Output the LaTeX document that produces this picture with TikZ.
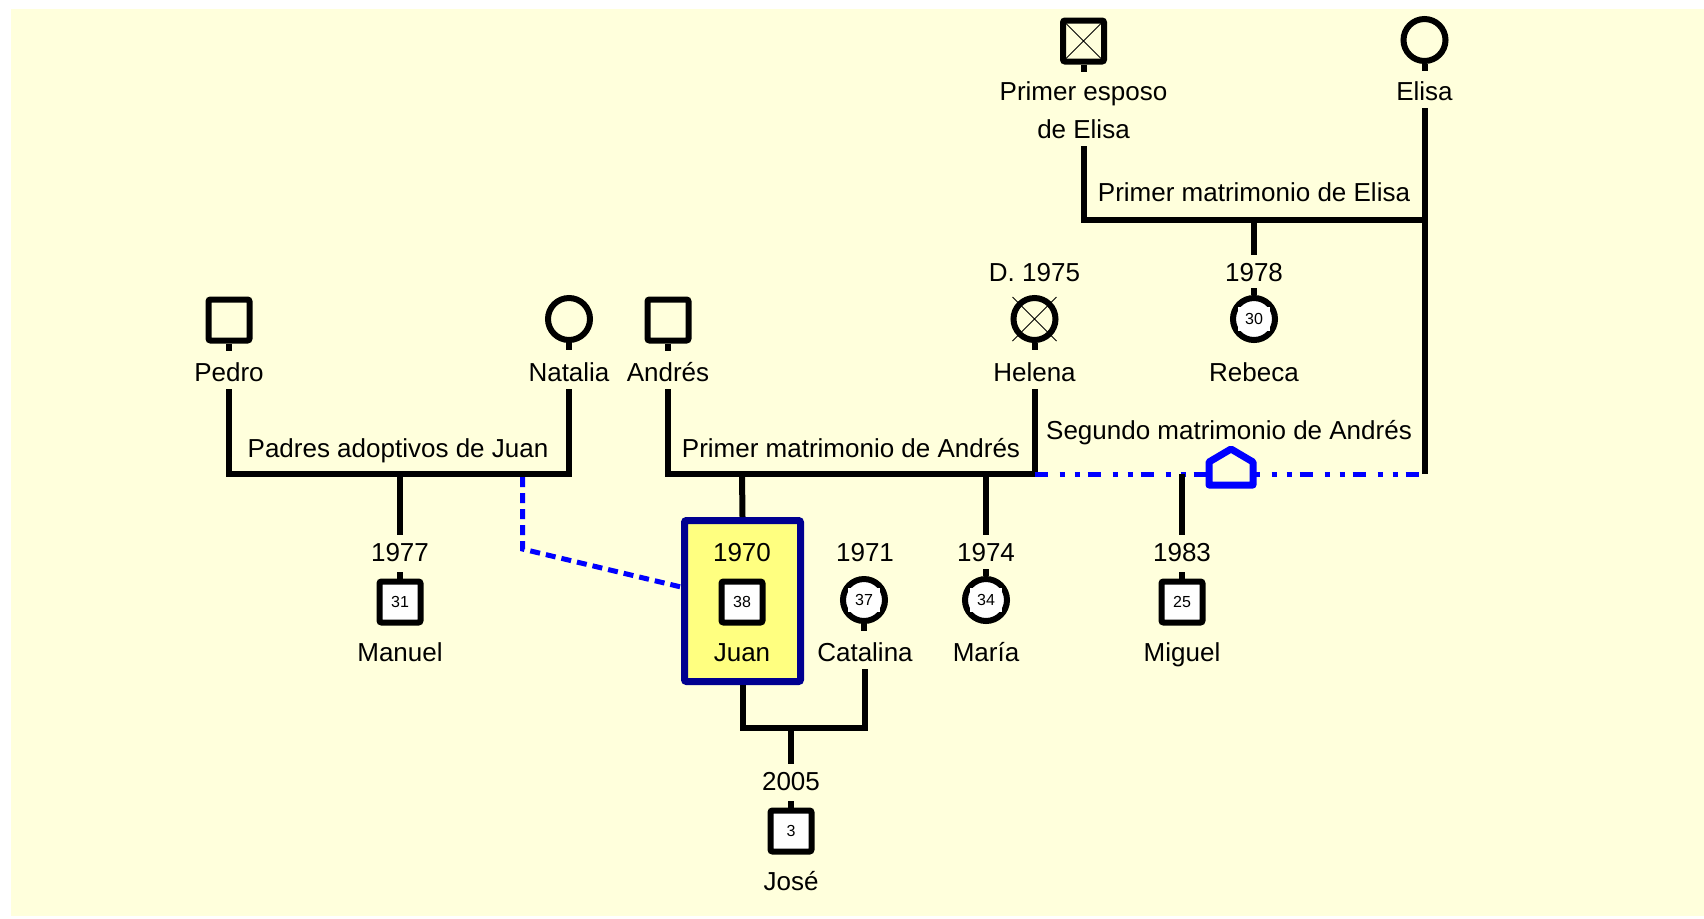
\documentclass[tikz,border=0pt]{standalone}
\usepackage{fontspec}
\setmainfont{Liberation Sans}
\definecolor{bgc}{HTML}{FFFFDC}
\definecolor{boxy}{HTML}{FFFF80}
\definecolor{navyb}{HTML}{000090}
\definecolor{blu}{HTML}{0000FF}
\begin{document}
\begin{tikzpicture}[x=0.5pt,y=-0.5pt,
  fam/.style={line width=3pt, black, line cap=butt},
  lbl/.style={font=\fontsize{13}{15}\selectfont, inner sep=0pt, outer sep=4pt, text height=9.3pt, text depth=0pt},
  male/.style={draw, line width=3pt, rectangle, minimum size=20.5pt, inner sep=0pt, rounded corners=1pt},
  female/.style={draw, line width=3pt, circle, minimum size=21pt, inner sep=0pt},
  num/.style={font=\fontsize{8}{9}\selectfont, fill=white},
  adopt/.style={draw=blu, line width=2.5pt, dash pattern=on 5pt off 3pt},
  second/.style={draw=blu, line width=2.5pt, dash pattern=on 6.5pt off 6pt on 2.5pt off 5pt on 2.5pt off 4pt},
  house/.style={draw=blu, fill=bgc, line width=3.5pt, line join=round}
]
\useasboundingbox (0,0) rectangle (1704,918);
\fill[white] (0,0) rectangle (1704,918);
\fill[bgc] (11,9) rectangle (1704,916);

% --- coordinates of bars
\coordinate (m1) at (400,474);
\coordinate (m2) at (742,474);
\coordinate (m3) at (986,474);
\coordinate (m4) at (1254,219.5);
\coordinate (m5) at (791,728);
\coordinate (m6) at (1182,474);
\coordinate (hB) at (1034.5,474);
\coordinate (eB) at (1424.5,474);
\coordinate (aA) at (522.5,477);
\coordinate (aB) at (522.5,549);

% --- Juan box
\node[draw=navyb, fill=boxy, line width=3.5pt, minimum width=58pt, minimum height=80.5pt, inner sep=0pt, rounded corners=1pt] (juanBox) at (742.5,601) {};

% --- symbols
\node[male] (pedroS) at (229,320) {};
\node[female] (natS) at (569,319) {};
\node[male] (andS) at (668,320) {};
\node[female] (helS) at (1034.5,319) {};
\node[female, fill=white] (rebS) at (1254,319) {};
\node[male] (espS) at (1083.5,41) {};
\node[female] (elisaS) at (1424.5,40) {};
\node[male, fill=white] (manS) at (400,602) {};
\node[male, fill=white] (juanS) at (742,602) {};
\node[female, fill=white] (catS) at (864,600) {};
\node[female, fill=white] (marS) at (986,600) {};
\node[male, fill=white] (migS) at (1182,602) {};
\node[male, fill=white] (joseS) at (791,831) {};

\node[num] at (rebS) {30};
\node[num] at (manS) {31};
\node[num] at (juanS) {38};
\node[num] at (catS) {37};
\node[num] at (marS) {34};
\node[num] at (migS) {25};
\node[num] at (joseS) {3};

% crosses
\draw[line width=0.5pt] (helS.center) +(-22,-22) -- +(22,22) (helS.center) +(22,-22) -- +(-22,22);
\draw[line width=0.5pt] (espS.center) +(-19,-19) -- +(19,19) (espS.center) +(19,-19) -- +(-19,19);

% stubs
\foreach \s in {pedroS,natS,andS,helS,espS,elisaS,catS}
  \draw[fam] (\s.south) -- ++(0,7);
\foreach \s in {rebS,manS,marS,migS,joseS}
  \draw[fam] (\s.north) -- ++(0,-7);

% --- labels
\node[lbl] (pedroL) at (229,372) {Pedro};
\node[lbl] (natL) at (569,372) {Natalia};
\node[lbl] (andL) at (668,372) {Andrés};
\node[lbl] (helL) at (1034.5,372) {Helena};
\node[lbl] (rebL) at (1254,372) {Rebeca};
\node[lbl] (helY) at (1034.5,272) {D. 1975};
\node[lbl] (y1978) at (1254,272) {1978};
\node[lbl] (espL1) at (1083.5,91) {Primer esposo};
\node[lbl] (espL2) at (1083.5,129) {de Elisa};
\node[lbl] (elisaL) at (1424.5,91) {Elisa};
\node[lbl] (mElisa) at (1254,192) {Primer matrimonio de Elisa};
\node[lbl] (mPadres) at (398,448) {Padres adoptivos de Juan};
\node[lbl] (mAndres) at (851,448) {Primer matrimonio de Andrés};
\node[lbl] (mSeg) at (1229,430) {Segundo matrimonio de Andrés};
\node[lbl] (y1977) at (400,552) {1977};
\node[lbl] (y1970) at (742,552) {1970};
\node[lbl] (y1971) at (865,552) {1971};
\node[lbl] (y1974) at (986,552) {1974};
\node[lbl] (y1983) at (1182,552) {1983};
\node[lbl] (y2005) at (791,781) {2005};
\node[lbl] (manL) at (400,652) {Manuel};
\node[lbl] (juanL) at (742,652) {Juan};
\node[lbl] (catL) at (865,652) {Catalina};
\node[lbl] (marL) at (986,652) {María};
\node[lbl] (migL) at (1182,652) {Miguel};
\node[lbl] (joseL) at (791,881) {José};

% --- connectors
\draw[fam] (pedroL.south) |- (m1) -| (natL.south);
\draw[fam] (m1) -- (y1977.north);
\draw[fam] (andL.south) |- (m2) -| (helL.south);
\draw[fam] (m2) -- (juanBox.north);
\draw[fam] (m3) -- (y1974.north);
\draw[fam] (espL2.south) |- (m4) -| (elisaL.south);
\draw[fam] (m4) -- (y1978.north);
\draw[fam] (elisaL.south) -- (eB);
\draw[fam] (juanBox.south) |- (m5) -| (catL.south);
\draw[fam] (m5) -- (y2005.north);
\draw[second] (hB) -- (eB);
\draw[fam] (m6) -- (y1983.north);
\draw[adopt] (aA) -- (aB) -- ([yshift=7pt]juanBox.west);
\draw[house] (1209,485) -- (1209,462) -- (1231,449) -- (1253,462) -- (1253,485) -- cycle;
\end{tikzpicture}
\end{document}
